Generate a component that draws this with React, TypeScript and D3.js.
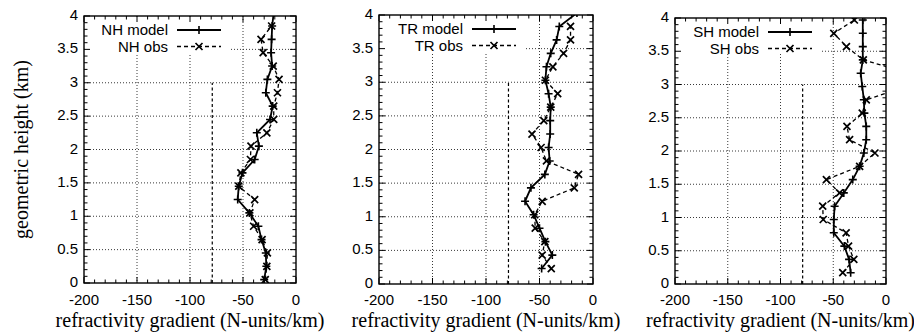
import React from "react";
import * as d3 from "d3";

// ---------- data ----------
const nhModelHeights = [0.05, 0.25, 0.45, 0.65, 0.85, 1.05, 1.25, 1.45, 1.65, 1.85, 2.05, 2.25, 2.45, 2.65, 2.85, 3.05, 3.25, 3.45, 3.65, 3.85, 4.05];
const nhModel = [-30, -28, -28.5, -32.5, -35.5, -44, -55, -54, -50.5, -39, -35, -37, -24.5, -22, -28.5, -27, -22.5, -23.5, -23, -22.5, -21];
const nhObsHeights = [0.05, 0.25, 0.45, 0.65, 0.85, 1.05, 1.25, 1.45, 1.65, 1.85, 2.05, 2.25, 2.45, 2.65, 2.85, 3.05, 3.25, 3.45, 3.65, 3.85];
const nhObs = [-29, -27.5, -27, -32, -40, -43.5, -39, -54, -52, -43, -42.5, -27.5, -21, -21, -17.5, -16, -21.5, -31, -33, -23];

const trModelHeights = [0.23, 0.43, 0.63, 0.83, 1.03, 1.23, 1.43, 1.63, 1.83, 2.03, 2.23, 2.43, 2.63, 2.83, 3.03, 3.23, 3.43, 3.63, 3.83, 4.03];
const trModel = [-48, -38, -44.5, -50, -55.5, -63.5, -58, -45, -40.5, -41.5, -40, -40, -39.5, -41.5, -44.5, -43.5, -39.5, -34, -31.5, -15];
const trObsHeights = [0.23, 0.43, 0.63, 0.83, 1.03, 1.23, 1.43, 1.63, 1.83, 2.03, 2.23, 2.43, 2.63, 2.83, 3.03, 3.23, 3.43, 3.63, 3.83];
const trObs = [-39, -47.5, -45, -54, -54.5, -47.5, -17.5, -13.5, -43.5, -48.5, -57, -46, -39.5, -33, -44.5, -37.5, -27.5, -21, -21];

const shModelHeights = [0.17, 0.37, 0.57, 0.77, 0.97, 1.17, 1.37, 1.57, 1.77, 1.97, 2.17, 2.37, 2.57, 2.77, 2.97, 3.17, 3.37, 3.57, 3.77, 3.97];
const shModel = [-33.5, -35, -39.5, -49.5, -49.5, -48.7, -40, -31.5, -25, -21, -18.7, -18.7, -20.5, -21, -22.5, -24, -22, -22, -22, -22];
const shObsHeights = [0.17, 0.37, 0.57, 0.77, 0.97, 1.17, 1.37, 1.57, 1.77, 1.97, 2.17, 2.37, 2.57, 2.77, 2.97, 3.17, 3.37, 3.57, 3.77, 3.97];
const shObs = [-41, -30.5, -35.5, -37.8, -59.5, -60, -44, -56.5, -25, -10.5, -34.5, -37, -22.5, -18.7, 19, 22, -21.5, -37.5, -49.5, -30];

const regionNames = ["NH", "TR", "SH"];
const xTicks = [-200, -150, -100, -50, 0];
const xTickLabels = ["-200", "-150", "-100", "-50", "0"];
const yTicks = [0, 0.5, 1, 1.5, 2, 2.5, 3, 3.5, 4];
const yTickLabels = ["0", "0.5", "1", "1.5", "2", "2.5", "3", "3.5", "4"];
const thresholdX = -79;
const thresholdTop = 3;
const xLabel = "refractivity gradient (N-units/km)";
const yLabel = "geometric height (km)";

// ---------- layout ----------
const W = 914;
const H = 332;
const layout = [
  { left: 84, right: 296, top: 16, bottom: 283, legendH: 37 },
  { left: 379, right: 593, top: 15, bottom: 284, legendH: 38 },
  { left: 675, right: 886, top: 18, bottom: 284, legendH: 35 },
];
const xTickBaseline = 305;
const xLabelBaseline = 327;
const SANS = "Liberation Sans, Arimo, Helvetica, Arial, sans-serif";
const SERIF = "Liberation Serif, Tinos, Times New Roman, DejaVu Serif, serif";
const sansStyle = { fontFamily: SANS, fontSize: "15px" };
const serifStyle = { fontFamily: SERIF, fontSize: "20px" };

const seriesByPanel = [
  { mh: nhModelHeights, mv: nhModel, oh: nhObsHeights, ov: nhObs },
  { mh: trModelHeights, mv: trModel, oh: trObsHeights, ov: trObs },
  { mh: shModelHeights, mv: shModel, oh: shObsHeights, ov: shObs },
];

const plusPath = (x: number, y: number, r = 4) =>
  `M${x - r},${y}H${x + r}M${x},${y - r}V${y + r}`;
const crossPath = (x: number, y: number, r = 3.5) =>
  `M${x - r},${y - r}L${x + r},${y + r}M${x - r},${y + r}L${x + r},${y - r}`;

function Panel({ idx }: { idx: number }) {
  const L = layout[idx];
  const s = seriesByPanel[idx];
  const name = regionNames[idx];
  const x = d3.scaleLinear().domain([-200, 0]).range([L.left, L.right]);
  const y = d3.scaleLinear().domain([0, 4]).range([L.bottom, L.top]);
  const line = d3
    .line<[number, number]>()
    .x((d) => x(d[0]))
    .y((d) => y(d[1]));
  const modelPts: [number, number][] = s.mv.map((v, i) => [v, s.mh[i]]);
  const obsPts: [number, number][] = s.ov.map((v, i) => [v, s.oh[i]]);
  const clipId = `clip${idx}`;

  const xMinor = d3.range(-200, 0.001, 10);
  const yMinor = d3.range(0, 4.0001, 0.1);

  const lgTextX = L.left + 84;
  const lgX1 = L.left + 93;
  const lgX2 = L.left + 137;
  const lgMid = (lgX1 + lgX2) / 2;
  const lgY1 = L.top + 14;
  const lgY2 = L.top + 30.5;

  return (
    <g>
      <defs>
        <clipPath id={clipId}>
          <rect x={L.left} y={L.top} width={L.right - L.left} height={L.bottom - L.top} />
        </clipPath>
      </defs>
      {/* grid */}
      {yTicks
        .filter((t) => t > 0 && t < 4)
        .map((t) => (
          <line key={"gy" + t} x1={L.left} x2={L.right} y1={y(t)} y2={y(t)} stroke="#222" strokeWidth={0.9} strokeDasharray="1,2" />
        ))}
      {xTicks
        .filter((t) => t > -200 && t < 0)
        .map((t) => (
          <line key={"gx" + t} x1={x(t)} x2={x(t)} y1={L.top} y2={L.bottom} stroke="#222" strokeWidth={0.9} strokeDasharray="1,2" />
        ))}
      {/* threshold */}
      <line x1={x(thresholdX)} x2={x(thresholdX)} y1={y(0)} y2={y(thresholdTop)} stroke="#000" strokeWidth={1.2} strokeDasharray="3,2.5" />
      {/* legend box (opaque) */}
      <rect x={L.left + 1} y={L.top + 1} width={145} height={L.legendH - 1} fill="#fff" />
      {/* data */}
      <g clipPath={`url(#${clipId})`}>
        <path d={line(obsPts) || ""} fill="none" stroke="#000" strokeWidth={1.3} strokeDasharray="4,3" />
        <path d={line(modelPts) || ""} fill="none" stroke="#000" strokeWidth={1.8} />
        {modelPts.map((p, i) => (
          <path key={"m" + i} d={plusPath(x(p[0]), y(p[1]))} stroke="#000" strokeWidth={1.6} fill="none" />
        ))}
        {obsPts.map((p, i) => (
          <path key={"o" + i} d={crossPath(x(p[0]), y(p[1]))} stroke="#000" strokeWidth={1.7} fill="none" />
        ))}
      </g>
      {/* ticks */}
      {xMinor.map((t) => {
        const major = xTicks.includes(Math.round(t));
        const len = major ? 6 : 3.5;
        return (
          <g key={"xt" + t}>
            <line x1={x(t)} x2={x(t)} y1={L.bottom} y2={L.bottom - len} stroke="#000" strokeWidth={1} />
            <line x1={x(t)} x2={x(t)} y1={L.top} y2={L.top + len} stroke="#000" strokeWidth={1} />
          </g>
        );
      })}
      {yMinor.map((t, i) => {
        const major = i % 5 === 0;
        const len = major ? 6 : 3.5;
        return (
          <g key={"yt" + i}>
            <line x1={L.left} x2={L.left + len} y1={y(t)} y2={y(t)} stroke="#000" strokeWidth={1} />
            <line x1={L.right} x2={L.right - len} y1={y(t)} y2={y(t)} stroke="#000" strokeWidth={1} />
          </g>
        );
      })}
      {/* frame */}
      <rect x={L.left} y={L.top} width={L.right - L.left} height={L.bottom - L.top} fill="none" stroke="#000" strokeWidth={1.4} />
      {/* tick labels */}
      {xTicks.map((t, i) => (
        <text key={"xl" + t} x={x(t)} y={xTickBaseline} textAnchor="middle" style={sansStyle}>
          {xTickLabels[i]}
        </text>
      ))}
      {yTicks.map((t, i) => (
        <text key={"yl" + t} x={L.left - 6} y={y(t) + 4} textAnchor="end" style={sansStyle}>
          {yTickLabels[i]}
        </text>
      ))}
      {/* x label */}
      <text x={(L.left + L.right) / 2} y={xLabelBaseline} textAnchor="middle" style={serifStyle}>
        {xLabel}
      </text>
      {idx === 0 && (
        <text transform={`translate(27.5,${(L.top + L.bottom) / 2}) rotate(-90)`} textAnchor="middle" style={serifStyle}>
          {yLabel}
        </text>
      )}
      {/* legend */}
      <text x={lgTextX} y={lgY1 + 5} textAnchor="end" style={sansStyle}>
        {`${name} model`}
      </text>
      <line x1={lgX1} x2={lgX2} y1={lgY1} y2={lgY1} stroke="#000" strokeWidth={1.8} />
      <path d={plusPath(lgMid, lgY1)} stroke="#000" strokeWidth={1.6} fill="none" />
      <text x={lgTextX} y={lgY2 + 5} textAnchor="end" style={sansStyle}>
        {`${name} obs`}
      </text>
      <line x1={lgX1} x2={lgX2} y1={lgY2} y2={lgY2} stroke="#000" strokeWidth={1.3} strokeDasharray="4,3" />
      <path d={crossPath(lgMid, lgY2)} stroke="#000" strokeWidth={1.7} fill="none" />
    </g>
  );
}

export default function App() {
  return (
    <svg
      width={W}
      height={H}
      viewBox={`0 0 ${W} ${H}`}
      style={{ position: "absolute", left: 0, top: 0, background: "#fff" }}
    >
      <rect x={0} y={0} width={W} height={H} fill="#fff" />
      {layout.map((_, i) => (
        <Panel key={i} idx={i} />
      ))}
    </svg>
  );
}
